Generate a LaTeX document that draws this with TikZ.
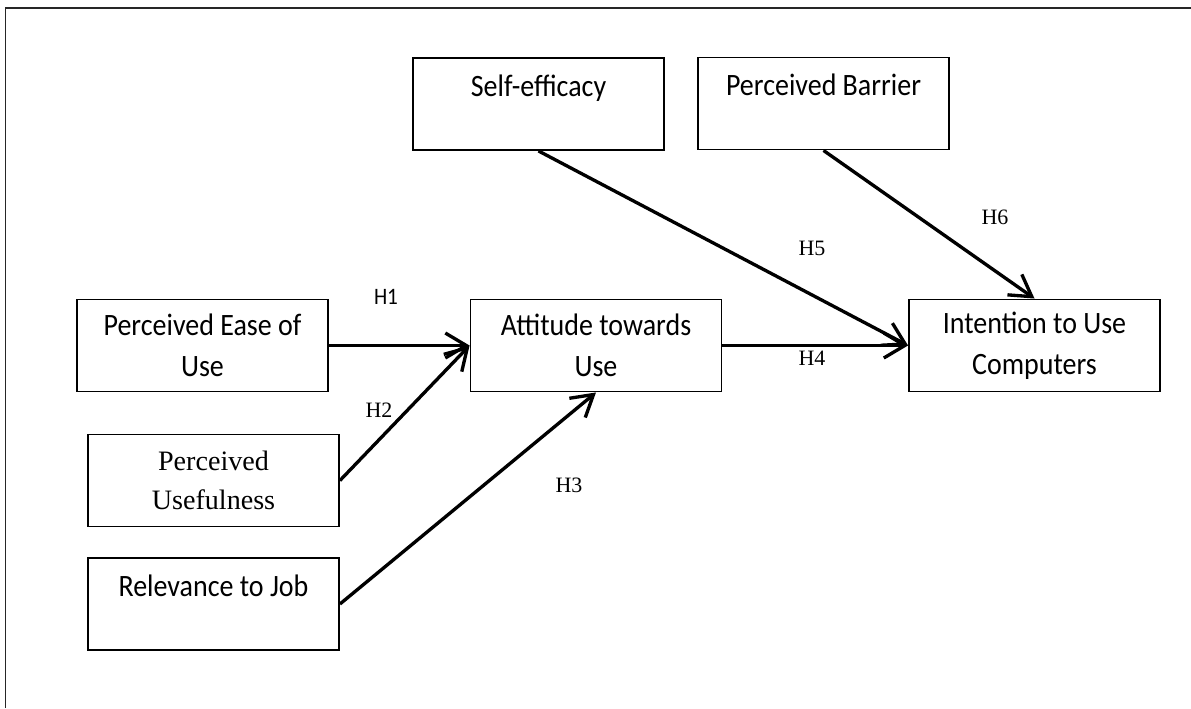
\documentclass[tikz,border=0pt]{standalone}
\usepackage{fontspec}
\usetikzlibrary{arrows.meta}
\newfontfamily\boxfont[FakeStretch=0.9]{Carlito}
\newfontfamily\hypfont{Liberation Serif}

\begin{document}
\begin{tikzpicture}[x=0.02cm,y=-0.02cm,
  box/.style={draw,line width=1.1pt,minimum width=5.02cm,minimum height=1.84cm,
    align=center,inner sep=0pt,font=\boxfont\fontsize{17.7}{23.3}\selectfont},
  hyp/.style={line width=1.9pt,-{Straight Barb[length=0.42cm,width=0.5cm]}},
  lab/.style={font=\hypfont\fontsize{12.5}{15}\selectfont}]
\useasboundingbox (0,0) rectangle (1191,708);
\draw [line width=1pt,color=black!85] (5.5,708)--(5.5,8)--(1191,8);
% boxes
\node[box] (SE) at (538.5,104) {Self-efficacy\\[-9pt] \strut};
\node[box] (PB) at (823.5,103.5) {Perceived Barrier\\[-9pt] \strut};
\node[box] (PEOU) at (202.5,345.5) {Perceived Ease of\\Use};
\node[box] (ATU) at (596,345.5) {Attitude towards\\Use};
\node[box] (ITU) at (1034.5,345.5) {Intention to Use\\Computers};
\node[box,font=\hypfont\fontsize{16}{22}\selectfont] (PU) at (213.5,480.5) {Perceived\\Usefulness};
\node[box] (RJ) at (213.5,604) {Relevance to Job\\[-9pt] \strut};
% paths
\draw [hyp] (PEOU.east)--(ATU.west);
\draw [hyp] (PU.east)--(ATU.west);
\draw [hyp] (RJ.east)--(ATU.south);
\draw [hyp] (ATU.east)--(ITU.west);
\draw [hyp] (SE.south)--(ITU.west);
\draw [hyp] (PB.south)--(ITU.north);
% labels
\node[lab,font=\boxfont\fontsize{13.4}{15}\selectfont] (h1) at (386,297) {H1};
\node[lab] (h2) at (379,410) {H2};
\node[lab] (h3) at (569,485) {H3};
\node[lab] (h4) at (812,358) {H4};
\node[lab] (h5) at (812,248) {H5};
\node[lab] (h6) at (995,217) {H6};
\end{tikzpicture}
\end{document}
